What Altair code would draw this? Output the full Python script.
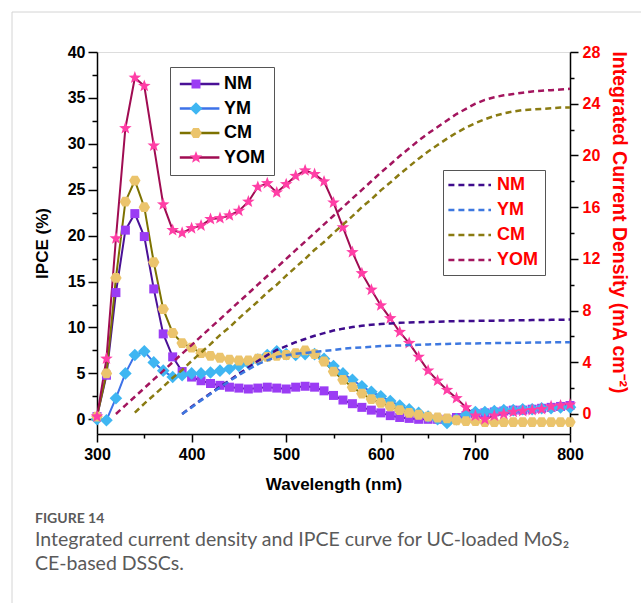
import altair as alt
import pandas as pd

# ---------------- data ----------------
wavelength = [300, 310, 320, 330, 340, 350, 360, 370, 380, 390,
              400, 410, 420, 430, 440, 450, 460, 470, 480, 490,
              500, 510, 520, 530, 540, 550, 560, 570, 580, 590,
              600, 610, 620, 630, 640, 650, 660, 670, 680, 690,
              700, 710, 720, 730, 740, 750, 760, 770, 780, 790,
              800]
series_names = ["NM", "YM", "CM", "YOM"]

ipce_nm = [0.3, 4.8, 13.8, 20.6, 22.4, 19.9, 14.2, 9.3, 6.8, 5.2,
           4.6, 4.2, 3.9, 3.7, 3.5, 3.4, 3.3, 3.4, 3.5, 3.4,
           3.3, 3.5, 3.6, 3.5, 3.1, 2.6, 2.1, 1.7, 1.3, 1.0,
           0.7, 0.4, 0.2, 0.1, 0.0, 0.0, 0.0, 0.0, 0.2, 0.4,
           0.6, 0.7, 0.8, 0.9, 1.0, 1.0, 1.1, 1.2, 1.3, 1.4,
           1.5]
ipce_ym = [0.0, -0.1, 2.3, 5.0, 7.0, 7.4, 6.2, 5.3, 4.6, 4.8,
           5.0, 5.0, 5.1, 5.3, 5.5, 5.8, 6.1, 6.5, 7.0, 7.4,
           7.1, 7.0, 7.1, 7.1, 6.6, 5.8, 5.0, 4.3, 3.6, 3.0,
           2.5, 2.0, 1.5, 1.1, 0.7, 0.3, 0.0, -0.4, 0.0, 0.5,
           0.8, 0.8, 0.9, 1.0, 1.0, 1.1, 1.1, 1.2, 1.2, 1.3,
           1.3]
ipce_cm = [0.3, 5.0, 15.4, 23.7, 26.0, 23.1, 17.1, 12.0, 9.4, 8.3,
           7.8, 7.2, 6.9, 6.7, 6.5, 6.4, 6.4, 6.6, 6.8, 6.9,
           7.0, 7.2, 7.5, 7.1, 6.3, 5.2, 4.3, 3.5, 2.8, 2.2,
           1.8, 1.4, 1.0, 0.7, 0.5, 0.3, 0.2, 0.1, -0.1, -0.2,
           -0.2, -0.3, -0.3, -0.3, -0.3, -0.3, -0.3, -0.3, -0.3, -0.3,
           -0.3]
ipce_yom = [0.3, 6.6, 19.7, 31.7, 37.2, 36.3, 29.8, 23.4, 20.6, 20.3,
            20.8, 21.1, 21.8, 21.9, 22.2, 22.7, 23.7, 25.3, 25.7, 24.7,
            25.6, 26.5, 27.1, 26.7, 25.9, 23.6, 20.9, 18.2, 15.9, 14.1,
            12.4, 11.0, 9.5, 8.3, 6.8, 5.3, 4.2, 3.2, 2.3, 1.3,
            0.4, 0.0, 0.4, 0.6, 0.8, 0.9, 1.0, 1.1, 1.4, 1.5,
            1.6]

jsc_nm = [None, None, None, None, None, None, None, None, None, 0.0,
          0.55, 1.1, 1.6, 2.1, 2.6, 3.1, 3.6, 4.1, 4.55, 4.95,
          5.25, 5.55, 5.8, 6.05, 6.25, 6.45, 6.6, 6.72, 6.82, 6.9,
          6.95, 7.0, 7.05, 7.08, 7.1, 7.12, 7.14, 7.16, 7.18, 7.2,
          7.2, 7.21, 7.22, 7.23, 7.24, 7.25, 7.26, 7.27, 7.28, 7.29,
          7.3]
jsc_ym = [None, None, None, None, None, None, None, None, None, 0.0,
          0.5, 1.05, 1.55, 2.05, 2.55, 3.0, 3.45, 3.85, 4.15, 4.4,
          4.55, 4.65, 4.72, 4.8, 4.88, 4.95, 5.05, 5.1, 5.15, 5.2,
          5.25, 5.28, 5.3, 5.33, 5.35, 5.38, 5.4, 5.42, 5.44, 5.45,
          5.46, 5.47, 5.48, 5.49, 5.5, 5.51, 5.52, 5.53, 5.54, 5.55,
          5.55]
jsc_cm = [None, None, None, None, 0.1, 0.8, 1.45, 2.1, 2.8, 3.4,
          4.1, 4.75, 5.4, 6.1, 6.7, 7.4, 8.05, 8.7, 9.4, 10.0,
          10.7, 11.35, 12.0, 12.7, 13.3, 14.0, 14.65, 15.3, 16.0, 16.6,
          17.3, 17.9, 18.55, 19.15, 19.75, 20.3, 20.8, 21.3, 21.75, 22.15,
          22.5, 22.8, 23.05, 23.25, 23.4, 23.5, 23.55, 23.6, 23.65, 23.7,
          23.7]
jsc_yom = [None, None, 0.0, 0.67, 1.33, 2.0, 2.67, 3.33, 4.0, 4.67,
           5.33, 6.0, 6.67, 7.33, 8.0, 8.67, 9.33, 10.0, 10.67, 11.33,
           12.0, 12.67, 13.33, 14.0, 14.67, 15.33, 16.0, 16.67, 17.33, 18.0,
           18.67, 19.3, 19.95, 20.55, 21.15, 21.7, 22.2, 22.7, 23.2, 23.6,
           24.0, 24.3, 24.5, 24.65, 24.75, 24.85, 24.95, 25.0, 25.05, 25.1,
           25.15]

x_ticks = [300, 350, 400, 450, 500, 550, 600, 650, 700, 750, 800]
ipce_ticks = [0, 2.5, 5, 7.5, 10, 12.5, 15, 17.5, 20, 22.5, 25, 27.5, 30, 32.5, 35, 37.5, 40]
jsc_ticks = [0, 2, 4, 6, 8, 10, 12, 14, 16, 18, 20, 22, 24, 26, 28]

line_colors = ["#4a1196", "#3d72e8", "#7d7200", "#a00c52"]
marker_colors = ["#9b3cf4", "#3fb6f2", "#ebc46c", "#ff3fa6"]
dash_colors = ["#3f0c8c", "#3d78e0", "#8a7b12", "#a3155e"]
marker_shapes = [
    "M-0.75,-0.75L0.75,-0.75L0.75,0.75L-0.75,0.75Z",
    "M-1.05,0L0,-1.05L1.05,0L0,1.05Z",
    "M-0.95,0L-0.475,-0.82L0.475,-0.82L0.95,0L0.475,0.82L-0.475,0.82Z",
    "M0,-1.1L0.27,-0.37L1.05,-0.34L0.44,0.14L0.65,0.89L0,0.46L-0.65,0.89L-0.44,0.14L-1.05,-0.34L-0.27,-0.37Z",
]
# legend line-sample glyphs (horizontal strokes drawn to the right of the symbol slot)
legend_line_a = "M-1.2,0H5.4"
legend_line_c = "M-1.6,0H5.5"

# distinct (trailing-space) category keys keep the three legends from merging
names_line = series_names
names_mark = [n + " " for n in series_names]
names_dash = [n + "  " for n in series_names]

ipce_data = {"NM": ipce_nm, "YM": ipce_ym, "CM": ipce_cm, "YOM": ipce_yom}
jsc_data = {"NM": jsc_nm, "YM": jsc_ym, "CM": jsc_cm, "YOM": jsc_yom}

rows = []
for name, mk in zip(series_names, names_mark):
    for w, v in zip(wavelength, ipce_data[name]):
        rows.append({"wavelength": w, "ipce": v, "sample": name, "sample_mk": mk})
df_ipce = pd.DataFrame(rows)

rows = []
for name, dk in zip(series_names, names_dash):
    for w, v in zip(wavelength, jsc_data[name]):
        if v is not None:
            rows.append({"wavelength": w, "jsc": v, "sample_j": dk})
df_jsc = pd.DataFrame(rows)

# ---------------- styling ----------------
FONT = "Liberation Sans, Arial, sans-serif"
CAP_FONT = "Lato, sans-serif"

common_axis = dict(
    domainColor="black", domainWidth=1.5, tickColor="black", tickWidth=1.5,
    labelFont=FONT, labelFontSize=16, labelFontWeight="bold",
    titleFont=FONT, titleFontWeight="bold",
    grid=False, labelOverlap=False, labelFlush=False,
)

x_enc = alt.X(
    "wavelength:Q",
    scale=alt.Scale(domain=[300, 800], nice=False, zero=False),
    axis=alt.Axis(
        values=x_ticks, title="Wavelength (nm)", titleFontSize=17,
        labelExpr="datum.value % 100 === 0 ? format(datum.value, 'd') : ''",
        tickSize={"condition": {"test": "datum.value % 100 === 0", "value": 8}, "value": 4},
        labelPadding=4, titlePadding=14, **common_axis,
    ),
)

y_ipce = alt.Y(
    "ipce:Q",
    scale=alt.Scale(domain=[-1.6, 40], nice=False, zero=False),
    axis=alt.Axis(
        orient="left", values=ipce_ticks, title="IPCE (%)", titleFontSize=17,
        labelExpr="datum.value % 5 === 0 ? format(datum.value, 'd') : ''",
        tickSize={"condition": {"test": "datum.value % 5 === 0", "value": 9}, "value": 5},
        labelPadding=3, titlePadding=16, **common_axis,
    ),
)

y_jsc = alt.Y(
    "jsc:Q",
    scale=alt.Scale(domain=[-1.55, 28], nice=False, zero=False),
    axis=alt.Axis(
        orient="right", values=jsc_ticks, title="Integrated Current Density (mA cm⁻²)",
        titleFontSize=19.5, titleY=170,
        labelExpr="datum.value % 4 === 0 ? format(datum.value, 'd') : ''",
        tickSize={"condition": {"test": "datum.value % 4 === 0", "value": 8}, "value": 4},
        labelPadding=4, titlePadding=9, labelColor="#ff0000", titleColor="#ff0000",
        **common_axis,
    ),
)

legend_common = dict(
    orient="none", direction="vertical", title=None,
    labelFont=FONT, labelFontSize=18, labelFontWeight="bold",
    labelLimit=200,
)

lines = alt.Chart(df_ipce).mark_line(strokeWidth=2).encode(
    x=x_enc, y=y_ipce,
    color=alt.Color(
        "sample:N", sort=names_line,
        scale=alt.Scale(domain=names_line, range=line_colors),
        legend=alt.Legend(
            legendX=73, legendY=15, padding=8, strokeColor="#555555",
            symbolType=legend_line_a, symbolSize=144, symbolStrokeWidth=2.5,
            labelOffset=28, labelColor="black", rowPadding=6.5, **legend_common,
        ),
    ),
    order="wavelength:Q",
)

# marker glyphs of the same legend (labels are supplied by the line legend above)
mk_legend = alt.Legend(
    legendX=90, legendY=23, padding=0, symbolSize=144, symbolStrokeWidth=0,
    labelOffset=22, labelColor="black", rowPadding=6.5, labelExpr="''", **legend_common,
)
points = alt.Chart(df_ipce).mark_point(filled=True, opacity=1, size=144, strokeWidth=0).encode(
    x=x_enc, y=y_ipce,
    fill=alt.Fill("sample_mk:N", sort=names_mark,
                  scale=alt.Scale(domain=names_mark, range=marker_colors), legend=mk_legend),
    shape=alt.Shape("sample_mk:N", sort=names_mark,
                    scale=alt.Scale(domain=names_mark, range=marker_shapes), legend=mk_legend),
)

dashed = alt.Chart(df_jsc).mark_line(strokeWidth=2.5, strokeDash=[6, 4]).encode(
    x=x_enc, y=y_jsc,
    stroke=alt.Stroke(
        "sample_j:N", sort=names_dash,
        scale=alt.Scale(domain=names_dash, range=dash_colors),
        legend=alt.Legend(
            legendX=346, legendY=118, padding=6, strokeColor="#555555",
            symbolType=legend_line_c, symbolSize=144, symbolStrokeWidth=2.5, symbolDash=[6, 4],
            labelOffset=30, labelColor="#ff0000", rowPadding=7, **legend_common,
        ),
    ),
    order="wavelength:Q",
)

frame_df = pd.DataFrame({"k": [0]})
border_v = alt.Chart(frame_df).mark_rule(color="#d4d4d4", strokeWidth=1).encode(
    x=alt.value(-85), y=alt.value(-40), y2=alt.value(551))
border_h = alt.Chart(frame_df).mark_rule(color="#d4d4d4", strokeWidth=1).encode(
    x=alt.value(-85), x2=alt.value(544), y=alt.value(-40))

ipce_layer = alt.layer(lines, points)

chart = alt.layer(ipce_layer, dashed, border_v, border_h).resolve_scale(
    y="independent"
).properties(
    width=473, height=382,
    padding={"left": 97, "top": 52, "right": 71, "bottom": 169},
    autosize=alt.AutoSizeParams(type="none"),
    title=alt.TitleParams(
        text="FIGURE 14",
        subtitle=["Integrated current density and IPCE curve for UC-loaded MoS₂",
                  "CE-based DSSCs."],
        orient="bottom", anchor="start", frame="group", dx=-62, offset=-92,
        font=CAP_FONT, fontSize=14, fontWeight="bold", color="#5a5a5a",
        subtitleFont=CAP_FONT, subtitleFontSize=19.5, subtitleColor="#5a5a5a",
        subtitleLineHeight=24, subtitlePadding=5,
    ),
).configure_view(stroke="black", strokeWidth=1.5).configure(background="white")

chart.save("out.html", embed_options={"renderer": "svg", "actions": False})
